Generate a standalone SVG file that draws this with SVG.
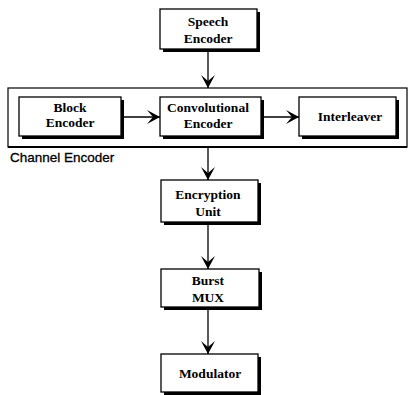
<svg xmlns="http://www.w3.org/2000/svg" width="408" height="395" viewBox="0 0 408 395">
<style>
.box{fill:#fff;stroke:#000;stroke-width:1.3}
.sh{fill:#000}
.t{font-family:"Liberation Serif","Times New Roman",serif;font-weight:bold;font-size:13.5px;fill:#000;text-anchor:middle}
.lab{font-family:"Liberation Sans",Arial,sans-serif;font-size:13.5px;fill:#000;stroke:#000;stroke-width:0.3}
.c{stroke:#000;stroke-width:1.3;fill:none}
</style>
<defs>
<marker id="ah" viewBox="-14 -8 15 16" markerWidth="15" markerHeight="16" refX="0" refY="0" orient="auto" markerUnits="userSpaceOnUse">
<path d="M0,0 L-13,-7 L-7,0 L-13,7 Z" fill="#000"/>
</marker>
</defs>
<rect fill="#fff" width="408" height="395"/>
<g id="channel-encoder">
<rect x="8" y="88" width="399" height="59" fill="none" stroke="#000" stroke-width="1.2"/>
<line x1="8" y1="147" x2="407" y2="147" stroke="#000" stroke-width="2"/>
<text class="lab" x="10" y="162">Channel Encoder</text>
</g>
<g id="connectors">
<line class="c" x1="208" y1="50" x2="208" y2="88" marker-end="url(#ah)"/>
<line class="c" x1="124" y1="117" x2="160" y2="117" marker-end="url(#ah)"/>
<line class="c" x1="264" y1="117" x2="299" y2="117" marker-end="url(#ah)"/>
<line class="c" x1="208" y1="147" x2="208" y2="180" marker-end="url(#ah)"/>
<line class="c" x1="208" y1="225" x2="208" y2="269" marker-end="url(#ah)"/>
<line class="c" x1="208" y1="310" x2="208" y2="354" marker-end="url(#ah)"/>
</g>
<g id="speech-encoder">
<rect class="sh" x="163" y="12" width="97" height="40"/>
<rect class="box" x="160" y="9" width="97" height="40"/>
<text class="t" x="208" y="26">Speech</text>
<text class="t" x="208" y="43">Encoder</text>
</g>
<g id="block-encoder">
<rect class="sh" x="22" y="100" width="102" height="39"/>
<rect class="box" x="19" y="97" width="102" height="39"/>
<text class="t" x="70" y="112">Block</text>
<text class="t" x="70" y="127">Encoder</text>
</g>
<g id="convolutional-encoder">
<rect class="sh" x="163" y="100" width="101" height="39"/>
<rect class="box" x="160" y="97" width="101" height="39"/>
<text class="t" x="208" y="112">Convolutional</text>
<text class="t" x="208" y="128">Encoder</text>
</g>
<g id="interleaver">
<rect class="sh" x="302" y="100" width="97" height="39"/>
<rect class="box" x="299" y="97" width="97" height="39"/>
<text class="t" x="350" y="121">Interleaver</text>
</g>
<g id="encryption-unit">
<rect class="sh" x="164" y="183" width="97" height="42"/>
<rect class="box" x="161" y="180" width="97" height="42"/>
<text class="t" x="208" y="199">Encryption</text>
<text class="t" x="208" y="216">Unit</text>
</g>
<g id="burst-mux">
<rect class="sh" x="164" y="272" width="98" height="38"/>
<rect class="box" x="161" y="269" width="98" height="38"/>
<text class="t" x="208" y="285">Burst</text>
<text class="t" x="208" y="302">MUX</text>
</g>
<g id="modulator">
<rect class="sh" x="164" y="357" width="97" height="38"/>
<rect class="box" x="161" y="354" width="97" height="38"/>
<text class="t" x="210" y="378">Modulator</text>
</g>
</svg>
